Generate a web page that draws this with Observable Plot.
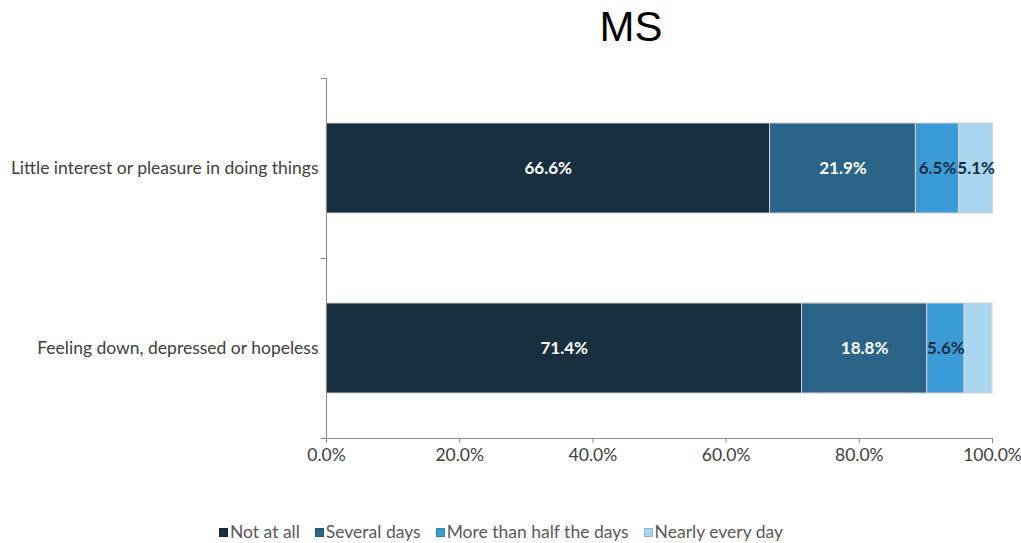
<!DOCTYPE html>
<html>
<head>
<meta charset="utf-8">
<script src="https://cdn.jsdelivr.net/npm/d3@7"></script>
<script src="https://cdn.jsdelivr.net/npm/@observablehq/plot@0.6"></script>
<style>
  html, body { margin: 0; padding: 0; background: #fff; }
  #page { position: relative; width: 1021px; height: 543px; overflow: hidden; font-family: Lato, sans-serif; }
  #title { position: absolute; top: 2px; left: 531px; width: 200px; text-align: center; font-family: "Liberation Sans", Arial, sans-serif; font-size: 42px; color: #000; line-height: 50px; }
  #chart { position: absolute; top: 60px; left: 0; }
  #legend { position: absolute; top: 522px; left: 0; width: 1002px; display: flex; justify-content: center; gap: 15px; font-size: 17.5px; color: #595959; line-height: 20px; }
  #legend .item { display: flex; align-items: center; gap: 2px; }
  #legend .sw { width: 9px; height: 9px; box-sizing: border-box; border: 1px solid rgba(0,0,0,0.15); }
</style>
</head>
<body>
<div id="page">
  <div id="title">MS</div>
  <div id="chart"></div>
  <div id="legend"></div>
</div>
<script>
const categories = ["Little interest or pleasure in doing things", "Feeling down, depressed or hopeless"];
const responses = ["Not at all", "Several days", "More than half the days", "Nearly every day"];
const littleInterest = [66.6, 21.9, 6.5, 5.1];
const feelingDown = [71.4, 18.8, 5.6, 4.2];
const colors = ["#172f3f", "#2b6489", "#3b9bd6", "#a9d5ef"];
const labelColors = ["#ffffff", "#ffffff", "#16303f", "#16303f"];
const xTicks = [0, 20, 40, 60, 80, 100];

const seriesByCategory = [littleInterest, feelingDown];
const rows = [];
categories.forEach((c, i) => {
  responses.forEach((r, j) => {
    rows.push({item: c, response: r, value: seriesByCategory[i][j], idx: j});
  });
});

const fmt = d => d.toFixed(1) + "%";

const chart = Plot.plot({
  width: 1021,
  height: 420,
  marginLeft: 326,
  marginRight: 29,
  marginTop: 18,
  marginBottom: 42,
  style: {fontFamily: "Lato, sans-serif", fontSize: "17.5px", color: "#404040", background: "white"},
  x: {domain: [0, 100], label: null},
  y: {domain: categories, paddingInner: 0.5, paddingOuter: 0.25, label: null},
  color: {domain: responses, range: colors},
  marks: [
    Plot.barX(rows, Plot.stackX({x: "value", y: "item", fill: "response", order: responses, stroke: "#d2d2d2", strokeWidth: 1})),
    Plot.textX(rows, Plot.stackX({
      x: "value", y: "item", z: "response", order: responses,
      text: d => d.value >= 5 ? fmt(d.value) : "",
      fill: d => labelColors[d.idx],
      fontWeight: "bold", fontSize: 17
    })),
    Plot.ruleX([0], {stroke: "#8c8c8c"}),
    Plot.ruleY([categories[categories.length - 1]], {x1: 0, x2: 100, dy: 90, stroke: "#8c8c8c"}),
    Plot.ruleY(categories, {x1: -0.8, x2: 0, dy: -90, stroke: "#8c8c8c"}),
    Plot.ruleY([categories[categories.length - 1]], {x1: -0.8, x2: 0, dy: 90, stroke: "#8c8c8c"}),
    Plot.axisX({ticks: xTicks, tickFormat: fmt, tickSize: 5, tickPadding: 5, stroke: "#8c8c8c", fill: "#404040", fontSize: 17.5, label: null}),
    Plot.axisY({tickSize: 0, tickPadding: 8, fill: "#404040", fontSize: 17.5, label: null})
  ]
});
document.getElementById("chart").appendChild(chart);

const legend = document.getElementById("legend");
responses.forEach((r, i) => {
  const item = document.createElement("div");
  item.className = "item";
  const sw = document.createElement("span");
  sw.className = "sw";
  sw.style.background = colors[i];
  const t = document.createElement("span");
  t.textContent = r;
  item.appendChild(sw);
  item.appendChild(t);
  legend.appendChild(item);
});
</script>
</body>
</html>
